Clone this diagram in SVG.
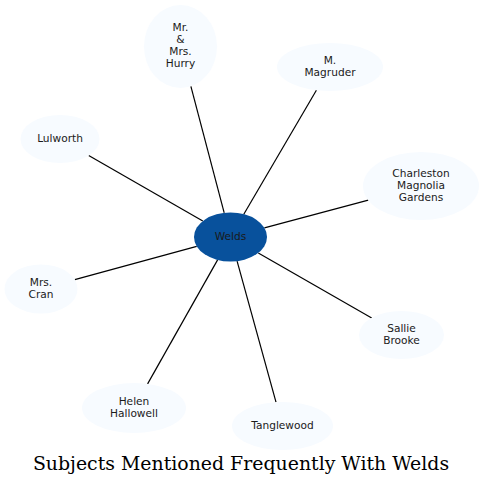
<svg xmlns="http://www.w3.org/2000/svg" width="484" height="486" viewBox="0 0 484 486">
<style>
.n{fill:#f7fbff;stroke:none}
.c{fill:#08519c;stroke:none}
.t{font-family:"DejaVu Sans",sans-serif;font-size:10.6px;fill:#1a1a1a;text-anchor:middle}
.e{stroke:#000;stroke-width:1.2;fill:none}
.title{font-family:"DejaVu Serif",serif;font-size:18.9px;fill:#000;text-anchor:middle}
</style>
<rect width="484" height="486" fill="#fff"/>
<g id="edges">
<line class="e" x1="224.2" y1="212.9" x2="190.9" y2="86.3"/>
<line class="e" x1="243.8" y1="214.2" x2="316.4" y2="90.2"/>
<line class="e" x1="202.8" y1="221.1" x2="88.7" y2="155.5"/>
<line class="e" x1="196.7" y1="246.3" x2="74.8" y2="279.7"/>
<line class="e" x1="264.4" y1="227.9" x2="368.3" y2="200.1"/>
<line class="e" x1="258.3" y1="252.9" x2="371.7" y2="317.9"/>
<line class="e" x1="217.6" y1="259.9" x2="147.6" y2="383.9"/>
<line class="e" x1="237.1" y1="261.1" x2="276" y2="402.2"/>
</g>
<g id="welds">
<ellipse class="c" cx="230.5" cy="237" rx="36.5" ry="24.5"/>
<text class="t" x="230.5" y="239.7">Welds</text>
</g>
<g id="hurry">
<ellipse class="n" cx="180.5" cy="46.5" rx="36.5" ry="41.5"/>
<text class="t" x="180.5" y="31.2">Mr.</text>
<text class="t" x="180.5" y="43.2">&amp;</text>
<text class="t" x="180.5" y="55.2">Mrs.</text>
<text class="t" x="180.5" y="67.2">Hurry</text>
</g>
<g id="magruder">
<ellipse class="n" cx="330" cy="67" rx="53" ry="24"/>
<text class="t" x="330" y="63.7">M.</text>
<text class="t" x="330" y="75.7">Magruder</text>
</g>
<g id="lulworth">
<ellipse class="n" cx="60" cy="139" rx="39.5" ry="24"/>
<text class="t" x="60" y="141.5">Lulworth</text>
</g>
<g id="charleston">
<ellipse class="n" cx="421" cy="186" rx="58" ry="34"/>
<text class="t" x="421" y="176.7">Charleston</text>
<text class="t" x="421" y="188.7">Magnolia</text>
<text class="t" x="421" y="200.7">Gardens</text>
</g>
<g id="cran">
<ellipse class="n" cx="41" cy="289" rx="36.5" ry="24.5"/>
<text class="t" x="41" y="285.7">Mrs.</text>
<text class="t" x="41" y="297.7">Cran</text>
</g>
<g id="sallie">
<ellipse class="n" cx="401.5" cy="335" rx="42.5" ry="24"/>
<text class="t" x="401.5" y="331.7">Sallie</text>
<text class="t" x="401.5" y="343.7">Brooke</text>
</g>
<g id="helen">
<ellipse class="n" cx="134" cy="408" rx="52" ry="25"/>
<text class="t" x="134" y="404.7">Helen</text>
<text class="t" x="134" y="416.7">Hallowell</text>
</g>
<g id="tanglewood">
<ellipse class="n" cx="282.5" cy="426" rx="50.5" ry="24"/>
<text class="t" x="282.5" y="428.7">Tanglewood</text>
</g>
<text class="title" x="241" y="470">Subjects Mentioned Frequently With Welds</text>
</svg>
